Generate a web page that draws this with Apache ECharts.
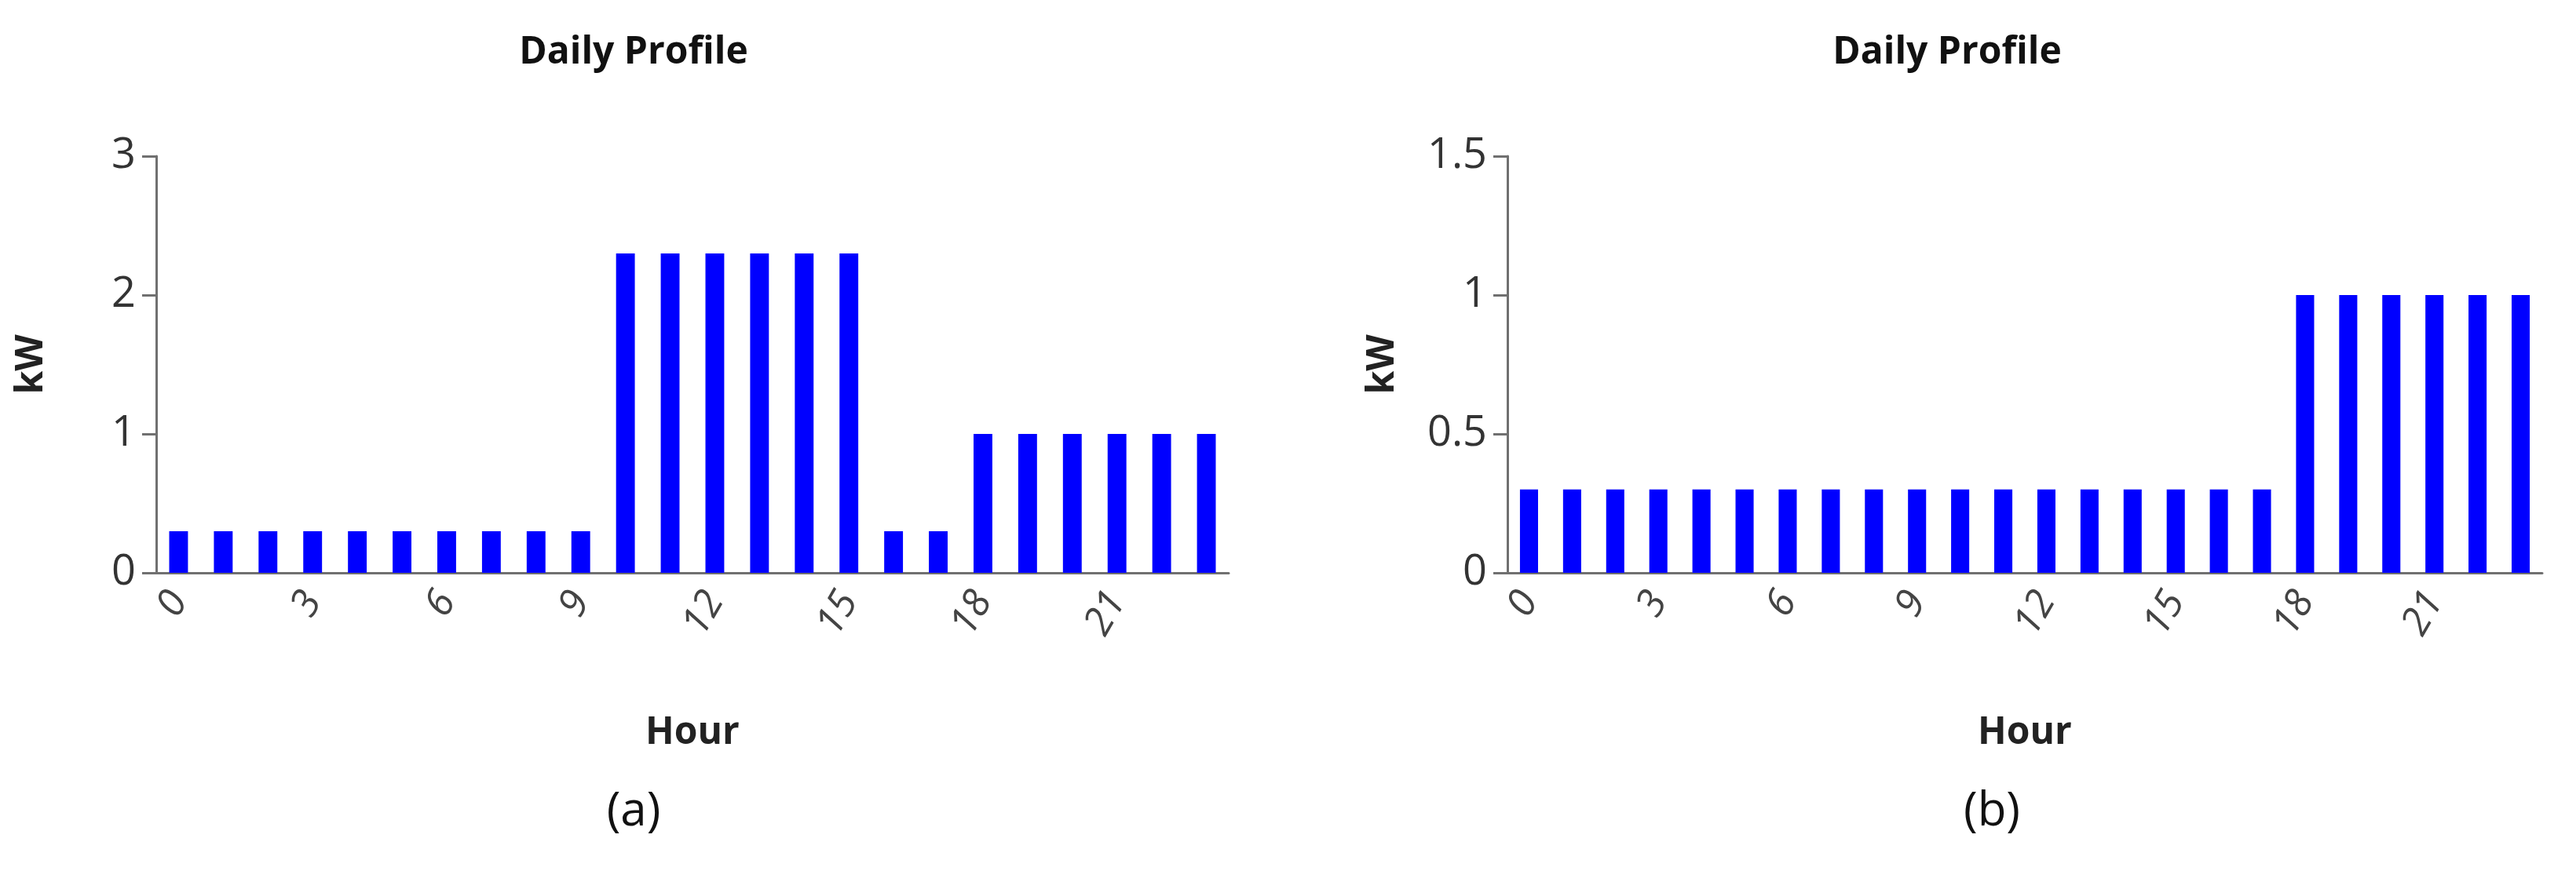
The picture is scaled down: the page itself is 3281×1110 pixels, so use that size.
<!DOCTYPE html>
<html><head><meta charset="utf-8">
<script src="https://cdn.jsdelivr.net/npm/echarts@6/dist/echarts.min.js"></script>
<style>html,body{margin:0;background:#fff}#c{width:3281px;height:1110px}</style>
</head><body><div id="c"></div>
<script>
const hours = Array.from({length:24},(_,i)=>String(i));
const profileA = [0.3,0.3,0.3,0.3,0.3,0.3,0.3,0.3,0.3,0.3,2.3,2.3,2.3,2.3,2.3,2.3,0.3,0.3,1,1,1,1,1,1];
const profileB = [0.3,0.3,0.3,0.3,0.3,0.3,0.3,0.3,0.3,0.3,0.3,0.3,0.3,0.3,0.3,0.3,0.3,0.3,1,1,1,1,1,1];
const titleText = 'Daily Profile';
const xName = 'Hour', yName = 'kW';
const captions = ['(a)','(b)'];
const F = '"Open Sans","Noto Sans",sans-serif';
const axisCol = '#707070';
function xa(i){return {type:'category',gridIndex:i,data:hours,name:xName,nameLocation:'middle',nameGap:180,
 nameTextStyle:{fontFamily:F,fontSize:48,fontWeight:'bold',color:'#222'},
 axisLine:{lineStyle:{color:axisCol,width:3}},axisTick:{length:22,lineStyle:{color:axisCol,width:3}},
 axisLabel:{interval:2,rotate:60,fontFamily:F,fontSize:50,fontStyle:'italic',color:'#444',margin:28}};}
function ya(i,max,intv){return {type:'value',gridIndex:i,min:0,max:max,interval:intv,name:yName,nameLocation:'middle',nameGap:135,
 nameTextStyle:{fontFamily:F,fontSize:48,fontWeight:'bold',color:'#222'},
 axisLine:{show:true,lineStyle:{color:axisCol,width:3}},axisTick:{show:true,length:18,lineStyle:{color:axisCol,width:3}},
 splitLine:{show:false},axisLabel:{fontFamily:F,fontSize:54,color:'#333',margin:26}};}
const chart = echarts.init(document.getElementById('c'));
chart.setOption({
 animation:false,
 title:[
  {text:titleText,left:802,top:38,textAlign:'center',textStyle:{fontFamily:F,fontSize:48,fontWeight:'bold',color:'#111'}},
  {text:titleText,left:2475,top:38,textAlign:'center',textStyle:{fontFamily:F,fontSize:48,fontWeight:'bold',color:'#111'}},
  {text:captions[0],left:802,top:1000,textAlign:'center',textStyle:{fontFamily:F,fontSize:60,fontWeight:'normal',color:'#111'}},
  {text:captions[1],left:2532,top:1000,textAlign:'center',textStyle:{fontFamily:F,fontSize:60,fontWeight:'normal',color:'#111'}}
 ],
 grid:[{left:199,width:1366,top:199,height:531},{left:1920,width:1318,top:199,height:531}],
 xAxis:[xa(0),xa(1)],
 yAxis:[ya(0,3,1),ya(1,1.5,0.5)],
 series:[
  {type:'bar',xAxisIndex:0,yAxisIndex:0,data:profileA,barWidth:'42%',itemStyle:{color:'#0000ff'}},
  {type:'bar',xAxisIndex:1,yAxisIndex:1,data:profileB,barWidth:'42%',itemStyle:{color:'#0000ff'}}
 ]
});
</script></body></html>
